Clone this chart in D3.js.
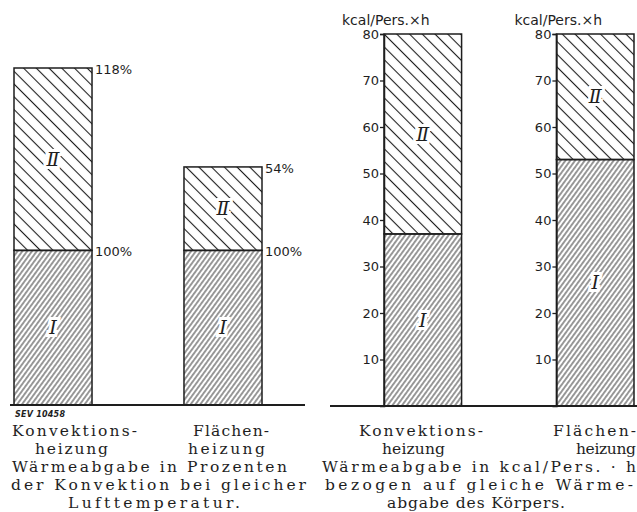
<!DOCTYPE html>
<html>
<head>
<meta charset="utf-8">
<script src="https://cdn.jsdelivr.net/npm/d3@7"></script>
<style>
  body { margin: 0; background: #fff; }
  svg { display: block; }
</style>
</head>
<body>
<div id="chart"></div>
<script>
// values
const categories = ["Konvektionsheizung", "Flächenheizung"];
const percentI = [100, 100];
const percentII = [118, 54];
const kcalI = [37, 53];
const kcalII = [43, 27];
const kcalTicks = [10, 20, 30, 40, 50, 60, 70, 80];
const unitLabel = "kcal/Pers.×h";
const numerals = { I: "Ⅰ", II: "Ⅱ" };
const categoryLines = [["Konvektions-", "heizung"], ["Flächen-", "heizung"]];
const captionLeft = ["Wärmeabgabe in Prozenten", "der Konvektion bei gleicher", "Lufttemperatur."];
const captionRight = ["Wärmeabgabe in kcal/Pers. · h", "bezogen auf gleiche Wärme-", "abgabe des Körpers."];
const figureCode = "SEV 10458";

// caption placement (x, width) per line
const captionLayout = {
  left: {
    cat: [[{ x: 12, w: 125 }, { x: 35, w: 73 }], [{ x: 193, w: 76 }, { x: 188, w: 77 }]],
    lines: [{ x: 12, w: 275 }, { x: 11, w: 295 }, { x: 68, w: 172 }],
  },
  right: {
    cat: [[{ x: 359, w: 124 }, { x: 382, w: 63 }], [{ x: 553, w: 83 }, { x: 576, w: 60 }]],
    lines: [{ x: 322, w: 314 }, { x: 325, w: 308 }, { x: 387, w: 178 }],
  },
};
const lineY = [436, 454, 472, 490, 508];

const W = 637, H = 512;
const ink = "#1e1e1e";

const svg = d3.select("#chart").append("svg")
  .attr("width", W).attr("height", H);

// hatch patterns
const defs = svg.append("defs");
const pII = defs.append("pattern")
  .attr("id", "hatchII").attr("patternUnits", "userSpaceOnUse")
  .attr("width", 9).attr("height", 9)
  .attr("patternTransform", "rotate(-45)");
pII.append("line").attr("x1", 4.5).attr("y1", 0).attr("x2", 4.5).attr("y2", 9)
  .attr("stroke", ink).attr("stroke-width", 1.1);

const pI = defs.append("pattern")
  .attr("id", "hatchI").attr("patternUnits", "userSpaceOnUse")
  .attr("width", 3.9).attr("height", 10)
  .attr("patternTransform", "rotate(36)");
pI.append("line").attr("x1", 1.95).attr("y1", 0).attr("x2", 1.95).attr("y2", 10)
  .attr("stroke", "#262626").attr("stroke-width", 0.95);

const fills = { I: "url(#hatchI)", II: "url(#hatchII)" };

function drawPanel(g, xScale, yScale, valsI, valsII) {
  const rows = categories.map((c, i) => ({ cat: c, I: valsI[i], II: valsII[i] }));
  const stack = d3.stack().keys(["I", "II"])(rows);

  const layers = g.selectAll(".layer").data(stack).join("g").attr("class", "layer");
  layers.selectAll("rect")
    .data((s) => s.map((d) => ({ key: s.key, d })))
    .join("rect")
    .attr("x", (e) => xScale(e.d.data.cat))
    .attr("y", (e) => yScale(e.d[1]))
    .attr("width", xScale.bandwidth())
    .attr("height", (e) => yScale(e.d[0]) - yScale(e.d[1]))
    .attr("fill", (e) => fills[e.key])
    .attr("stroke", ink)
    .attr("stroke-width", 1.5);

  layers.selectAll("text.num")
    .data((s) => s.map((d) => ({ key: s.key, d })))
    .join("text")
    .attr("class", "num")
    .attr("x", (e) => xScale(e.d.data.cat) + xScale.bandwidth() / 2)
    .attr("y", (e) => (yScale(e.d[0]) + yScale(e.d[1])) / 2)
    .attr("dy", "0.35em")
    .attr("text-anchor", "middle")
    .attr("font-family", "DejaVu Serif")
    .attr("font-style", "italic")
    .attr("font-size", 19)
    .attr("fill", ink)
    .attr("stroke", "#fff")
    .attr("stroke-width", 6)
    .attr("paint-order", "stroke")
    .text((e) => numerals[e.key]);

  return rows;
}

// ---- left panel: percent ----
const xL = d3.scaleBand().domain(categories).range([14, 262])
  .paddingInner(0.541).paddingOuter(0);
const yL = d3.scaleLinear()
  .domain([0, d3.max(categories, (c, i) => percentI[i] + percentII[i])])
  .range([405, 68]);

const gL = svg.append("g");
const rowsL = drawPanel(gL, xL, yL, percentI, percentII);

// percent labels at segment tops
const pctLabels = [];
rowsL.forEach((r) => {
  pctLabels.push({ cat: r.cat, v: r.I, text: r.I + "%" });
  pctLabels.push({ cat: r.cat, v: r.I + r.II, text: r.II + "%" });
});
gL.selectAll("text.pct").data(pctLabels).join("text")
  .attr("class", "pct")
  .attr("x", (d) => xL(d.cat) + xL.bandwidth() + 3)
  .attr("y", (d) => yL(d.v))
  .attr("dy", "0.45em")
  .attr("font-family", "DejaVu Sans")
  .attr("font-size", 13)
  .attr("fill", ink)
  .text((d) => d.text);

gL.append("line").attr("x1", 10).attr("x2", 305)
  .attr("y1", yL(0)).attr("y2", yL(0))
  .attr("stroke", ink).attr("stroke-width", 2);

// ---- right panel: kcal ----
const xR = d3.scaleBand().domain(categories).range([384, 634])
  .paddingInner(0.55).paddingOuter(0);
const yR = d3.scaleLinear().domain([0, 80]).range([406, 34]);

const gR = svg.append("g");
drawPanel(gR, xR, yR, kcalI, kcalII);

categories.forEach((c) => {
  const ax = gR.append("g")
    .attr("transform", `translate(${xR(c)},0)`)
    .call(d3.axisLeft(yR).tickValues(kcalTicks).tickSize(4).tickPadding(1));
  ax.select(".domain").attr("stroke", ink).attr("stroke-width", 1.5);
  ax.selectAll(".tick line").attr("stroke", ink).attr("stroke-width", 1.3);
  ax.selectAll(".tick text")
    .attr("font-family", "DejaVu Sans").attr("font-size", 13).attr("fill", ink);
  gR.append("text")
    .attr("x", xR(c) - 42).attr("y", 25)
    .attr("font-family", "DejaVu Sans").attr("font-size", 14)
    .attr("fill", ink)
    .text(unitLabel);
});

gR.append("line").attr("x1", 330).attr("x2", 637)
  .attr("y1", yR(0)).attr("y2", yR(0))
  .attr("stroke", ink).attr("stroke-width", 2);

// ---- captions ----
function captions(layout, lines) {
  const items = [];
  categoryLines.forEach((cl, i) => cl.forEach((t, j) =>
    items.push({ t, x: layout.cat[i][j].x, w: layout.cat[i][j].w, y: lineY[j] })));
  lines.forEach((t, k) =>
    items.push({ t, x: layout.lines[k].x, w: layout.lines[k].w, y: lineY[k + 2] }));
  svg.append("g").selectAll("text").data(items).join("text")
    .attr("x", (d) => d.x).attr("y", (d) => d.y)
    .attr("textLength", (d) => d.w)
    .attr("lengthAdjust", "spacing")
    .attr("font-family", "DejaVu Serif")
    .attr("font-size", 15.5)
    .attr("fill", ink)
    .text((d) => d.t);
}
captions(captionLayout.left, captionLeft);
captions(captionLayout.right, captionRight);

svg.append("text")
  .attr("x", 15).attr("y", 417)
  .attr("textLength", 50).attr("lengthAdjust", "spacing")
  .attr("font-family", "DejaVu Sans").attr("font-style", "italic")
  .attr("font-weight", "bold").attr("font-size", 8)
  .attr("fill", ink)
  .text(figureCode);
</script>
</body>
</html>
